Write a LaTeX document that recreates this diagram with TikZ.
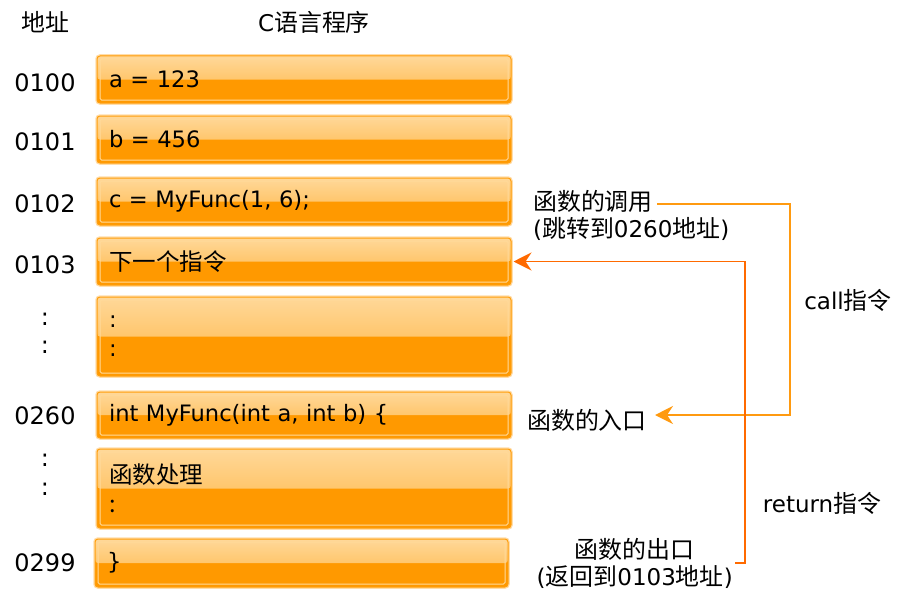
\documentclass[tikz,border=0pt]{standalone}
\usepackage{fontspec}
\setmainfont{DejaVu Sans}
\newfontfamily\cjk{Noto Sans CJK SC}[Scale=1.04]
\usetikzlibrary{arrows.meta,calc}
\definecolor{om}{HTML}{FF9900}
\definecolor{otop}{HTML}{FFD899}
\definecolor{omid}{HTML}{FFB440}
\definecolor{oedge}{HTML}{FFA010}
\definecolor{oglow}{HTML}{FFDDAA}
\definecolor{oinner}{HTML}{FFDA9A}
\definecolor{callc}{HTML}{FF9A10}
\definecolor{retc}{HTML}{FF6A00}
\tikzset{
  obox/.style={rectangle, rounded corners=3pt, fill=om, draw=oedge, line width=1pt,
    preaction={draw=oglow, line width=3.5pt},
    minimum width=414pt, text width=390pt, inner xsep=12pt, inner ysep=0pt,
    align=left, minimum height=#1, font=\fontsize{22.6}{29}\selectfont,
    path picture={
      \fill[top color=otop, bottom color=omid] (path picture bounding box.north west) rectangle (path picture bounding box.east);
      \draw[oinner, line width=1pt, rounded corners=1.5pt]
        ([shift={(3pt,-3pt)}]path picture bounding box.north west) rectangle
        ([shift={(-3pt,3pt)}]path picture bounding box.south east);
    }},
  lbl/.style={inner sep=0pt, font=\fontsize{23}{27}\selectfont},
  addr/.style={inner sep=0pt, font=\fontsize{24}{28}\selectfont},
  callarrow/.style={draw=callc, line width=1.6pt, -{Stealth[length=18pt,width=18pt,inset=6pt]}},
  retarrow/.style={draw=retc, line width=1.6pt, -{Stealth[length=18pt,width=18pt,inset=6pt]}}
}
\begin{document}
\begin{tikzpicture}[x=1pt,y=-1pt]
\useasboundingbox (0,0) rectangle (902,602);
% headers
\node[lbl] (hAddr) at (45,22) {\cjk 地址};
\node[lbl] (hProg) at (314,22) {C\cjk 语言程序};
% addresses
\node[addr] (a100) at (45,83) {0100};
\node[addr] (a101) at (45,142) {0101};
\node[addr] (a102) at (45,204) {0102};
\node[addr] (a103) at (45,265) {0103};
\node[addr] (d1) at (45,319) {:};
\node[addr] (d2) at (45,347) {:};
\node[addr] (a260) at (45,416) {0260};
\node[addr] (d3) at (45,460) {:};
\node[addr] (d4) at (45,489) {:};
\node[addr] (a299) at (45,563) {0299};
% boxes
\node[obox=47pt] (b1) at (304,79.5) {a = 123};
\node[obox=47pt] (b2) at (304,139.5) {b = 456};
\node[obox=47pt] (b3) at (304,201.5) {c = MyFunc(1, 6);};
\node[obox=47pt] (b4) at (304,261.5) {\cjk 下一个指令};
\node[obox=79pt] (b5) at (304,336.5) {:\\:};
\node[obox=46pt] (b6) at (304,415) {int MyFunc(int a, int b) \{};
\node[obox=79pt] (b7) at (304,488.5) {\cjk 函数处理\\:};
\node[obox=48pt, minimum width=413pt, text width=389pt] (b8) at (301.5,563) {\}};
% side labels
\node[lbl, anchor=west] (call1) at (533,201) {\cjk 函数的调用};
\node[lbl, anchor=west] (call2) at (533,229) {(\cjk 跳转到\normalfont 0260\cjk 地址\normalfont)};
\node[lbl] (callins) at (848,300) {call\cjk 指令};
\node[lbl, anchor=west] (entry) at (527,420) {\cjk 函数的入口};
\node[lbl] (retins) at (822,503) {return\cjk 指令};
\node[lbl, align=center, anchor=east] (exit) at (733,563) {\cjk 函数的出口\\(\cjk 返回到\normalfont 0103\cjk 地址\normalfont)};
% connectors
\coordinate (callturn) at (790,300);
\coordinate (entrytip) at (655,415);
\draw[callarrow] ([xshift=4pt,yshift=-3pt]call1.east) -| (callturn) |- (entrytip);
\coordinate (retturn) at (745,400);
\draw[retarrow] ([xshift=2pt]exit.east) -| (retturn) |- ([xshift=2pt]b4.east);
\end{tikzpicture}
\end{document}
